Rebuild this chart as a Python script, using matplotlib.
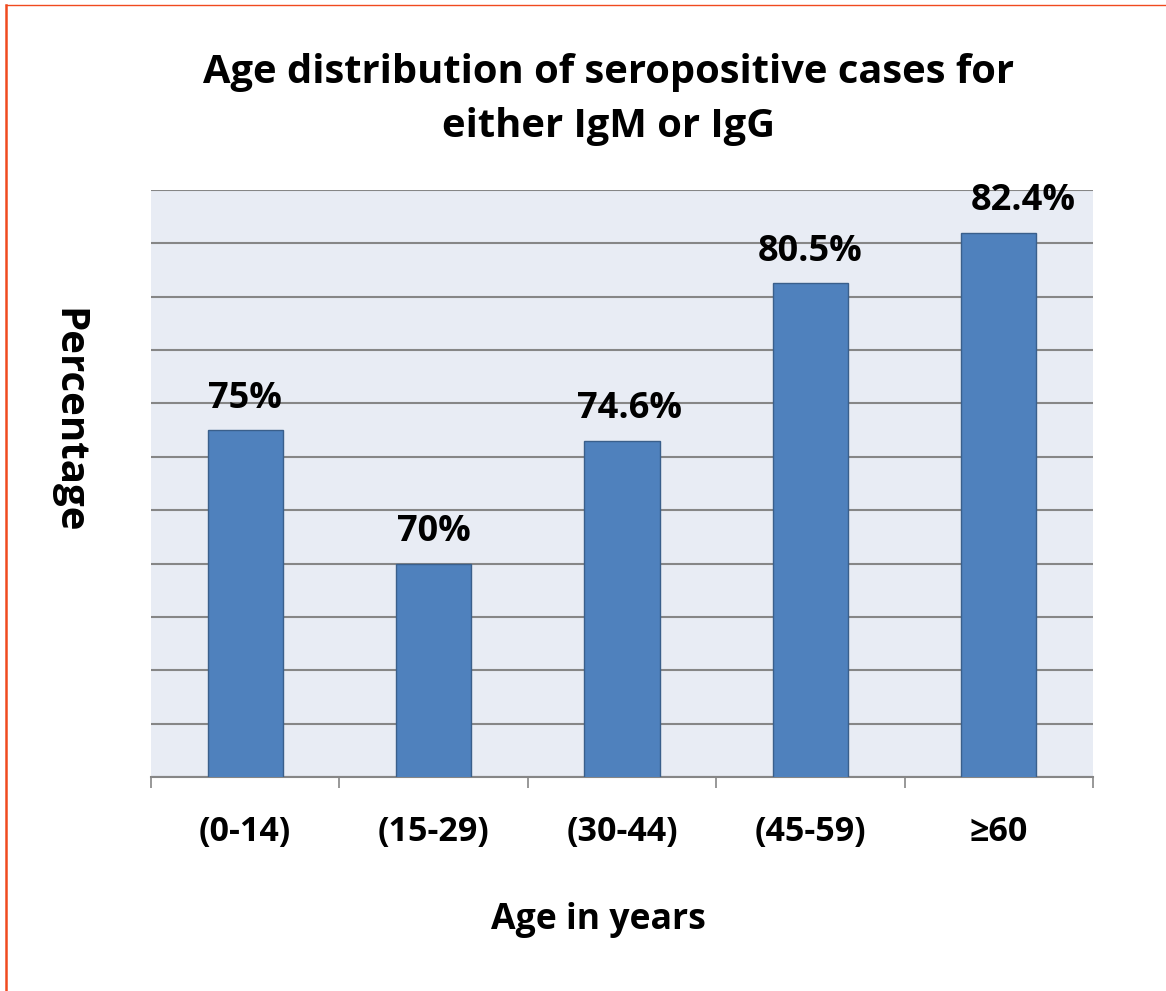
import matplotlib
matplotlib.use("Agg")
import matplotlib.pyplot as plt
from matplotlib.lines import Line2D
from matplotlib.ticker import MultipleLocator, FixedLocator

# Seropositivity (IgM or IgG) by age group
age_groups = ["(0-14)", "(15-29)", "(30-44)", "(45-59)", "\u226560"]
percent = [75.0, 70.0, 74.6, 80.5, 82.4]
value_labels = ["75%", "70%", "74.6%", "80.5%", "82.4%"]

plt.rcParams["font.family"] = ["Open Sans", "DejaVu Sans"]
plt.rcParams["font.weight"] = "bold"

fig = plt.figure(figsize=(11.66, 9.91), dpi=100)
ax = fig.add_axes([0.1295, 0.2159, 0.8079, 0.5924])
ax.set_facecolor("#E8ECF4")

x = list(range(len(age_groups)))
ax.bar(x, percent, width=0.40, color="#4F81BD", edgecolor="#3A5F8B",
       linewidth=1.0, zorder=3)

# labels were nudged sideways by hand on a couple of bars
label_dx = [0, 0, 0.04, 0, 0.13]
for xi, v, lab, dx in zip(x, percent, value_labels, label_dx):
    ax.text(xi + dx, v + 1.18, lab, ha="center", va="center", fontsize=26,
            fontweight="bold", color="black", zorder=4)

ax.set_xlim(-0.5, len(age_groups) - 0.5)
ax.set_ylim(62, 84)
ax.yaxis.set_major_locator(MultipleLocator(2))
ax.grid(axis="y", color="#868686", linewidth=1.5, zorder=1)
ax.set_axisbelow(True)
ax.tick_params(axis="y", left=False, labelleft=False)

# category labels centred, tick marks at the group boundaries
ax.set_xticks(x)
ax.set_xticklabels(age_groups, fontsize=24.5, fontweight="bold")
ax.tick_params(axis="x", which="major", length=0, pad=27)
ax.xaxis.set_minor_locator(FixedLocator([i - 0.5 for i in range(len(age_groups) + 1)]))
ax.tick_params(axis="x", which="minor", length=8, width=1.2, color="#868686")

for side in ["top", "right", "left"]:
    ax.spines[side].set_visible(False)
ax.spines["bottom"].set_color("#868686")
ax.spines["bottom"].set_linewidth(1.5)

fig.text(0.522, 0.9, "Age distribution of seropositive cases for\neither IgM or IgG",
         ha="center", va="center", fontsize=28.7, fontweight="bold",
         linespacing=1.5)
fig.text(0.513, 0.0716, "Age in years", ha="center", va="center",
         fontsize=25.7, fontweight="bold")
fig.text(0.058, 0.575, "Percentage", ha="center", va="center", rotation=-90,
         fontsize=29, fontweight="bold")

# slide frame on the left and top edges
fig.add_artist(Line2D([0.0051, 0.0051], [0.0, 0.995], color="#F04A1F",
                      linewidth=1.8, transform=fig.transFigure))
fig.add_artist(Line2D([0.0051, 1.0], [0.995, 0.995], color="#F04A1F",
                      linewidth=1.0, transform=fig.transFigure))

fig.savefig("out.png", dpi=100)
